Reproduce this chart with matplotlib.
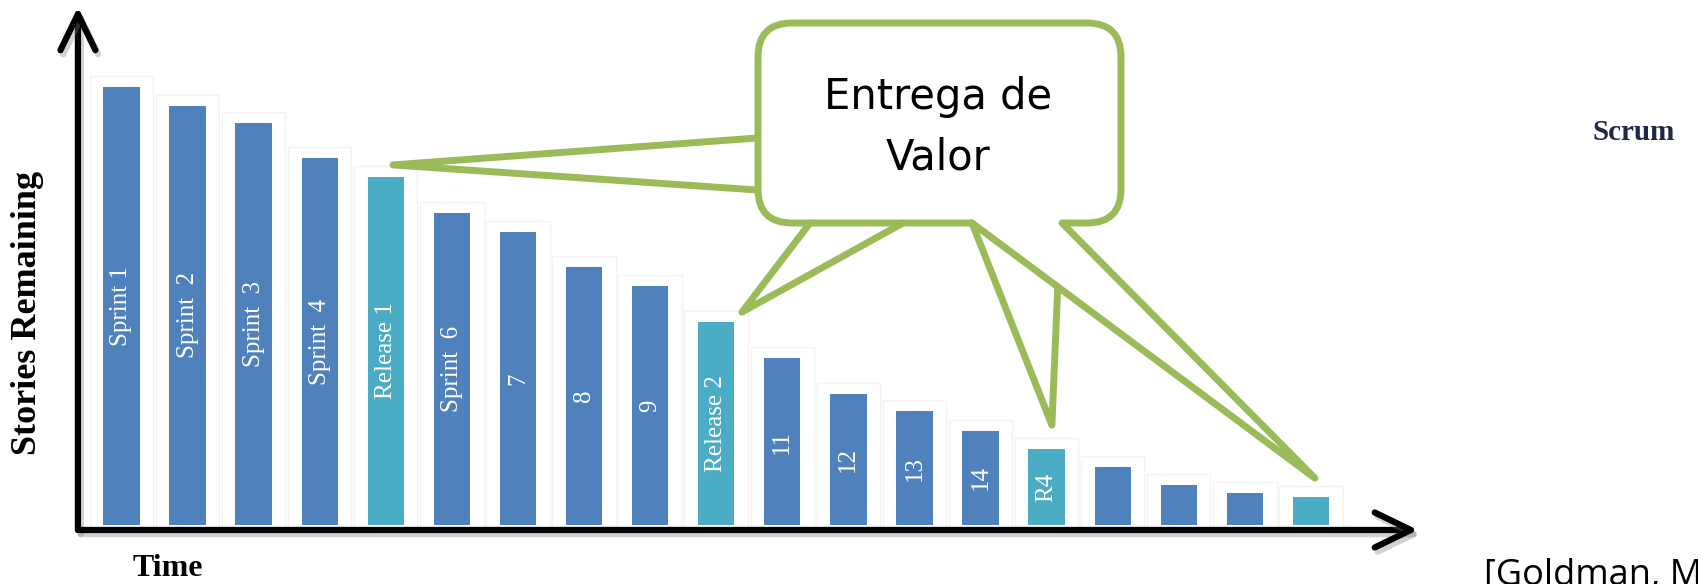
import matplotlib.pyplot as plt
import matplotlib.patheffects as pe
from matplotlib.patches import FancyBboxPatch
import numpy as np

# stories left at the end of each sprint (first bar = 100)
stories_remaining = [100, 95.7, 91.8, 83.8, 79.5, 71.2, 66.9, 58.9, 54.6, 46.3,
                     38.1, 29.9, 26.0, 21.5, 17.4, 13.2, 9.1, 7.3, 6.4]
bar_labels = ['Sprint 1', 'Sprint  2', 'Sprint  3', 'Sprint  4', 'Release 1',
              'Sprint  6', '7', '8', '9', 'Release 2', '11', '12', '13', '14',
              'R4', '', '', '', '']
release_bars = [4, 9, 14, 18]

blue = '#4F81BD'
teal = '#4BACC6'
green = '#9BBB59'

fig = plt.figure(figsize=(16.98, 5.84), dpi=100)

ax = fig.add_axes([0.0459, 0.0925, 0.7892, 0.8956])
x = np.arange(len(stories_remaining))
colors = [teal if i in release_bars else blue for i in x]

# faint cells behind the bars
ax.bar(x, np.array(stories_remaining) + 3.5, width=0.96, bottom=-1.0,
       color='white', edgecolor='#f3f3f3', linewidth=1.0, zorder=0)
ax.bar(x, stories_remaining, width=0.55, color=colors, zorder=2)
for i, label in enumerate(bar_labels):
    if label:
        ax.text(i, stories_remaining[i] / 2, label, rotation=90, ha='center', va='center',
                color='white', fontsize=18, family='Liberation Serif', zorder=3)

ax.set_xlim(-0.658, 19.62)
ax.set_ylim(-1.14, 118.26)
ax.axis('off')

# axis arrows
shadow = [pe.SimpleLineShadow(offset=(2, -3), shadow_color='gray', alpha=0.35), pe.Normal()]
for end in [(0, 1), (1, 0)]:
    ax.annotate('', xy=end, xytext=(0, 0), xycoords='axes fraction', textcoords='axes fraction',
                annotation_clip=False,
                arrowprops=dict(arrowstyle='->,head_length=1.3,head_width=0.63', lw=4.5,
                                color='black', shrinkA=0, shrinkB=0, mutation_scale=20,
                                capstyle='round', joinstyle='round', path_effects=shadow))

# overlay in pixel units for the callout and the loose texts
ov = fig.add_axes([0, 0, 1, 1])
ov.set_xlim(0, 1698)
ov.set_ylim(584, 0)
ov.axis('off')


def to_pixels(px, py):
    return ov.transData.inverted().transform(ax.transData.transform((px, py)))


tip_dx = [0.11, 0.39, 0.08, 0.06]
tip_dy = [2.7, 2.3, 5.4, 4.3]
tips = [to_pixels(b + dx, stories_remaining[b] + dy) for b, dx, dy in zip(release_bars, tip_dx, tip_dy)]

box = FancyBboxPatch((758, 23), 363, 200, boxstyle='round,pad=0,rounding_size=34',
                     facecolor='white', edgecolor=green, linewidth=5, zorder=2)
ov.add_patch(box)
ov.plot([977, 1057], [223, 223], color='white', lw=7, zorder=3)

junction = (972 + 0.25 * (tips[3][0] - 972), 223 + 0.25 * (tips[3][1] - 223))
pointers = [
    [(757, 138), tips[0], (757, 190)],
    [(810, 223), tips[1], (903, 223)],
    [(972, 223), tips[2], junction],
    [(972, 223), tips[3], (1062, 223)],
]
for pts in pointers:
    xs, ys = zip(*pts)
    ov.plot(xs, ys, color=green, lw=5, solid_joinstyle='round', solid_capstyle='round', zorder=4)

ov.text(938, 127, 'Entrega de\nValor', ha='center', va='center', fontsize=30,
        linespacing=1.55, family='DejaVu Sans', zorder=5)

ov.text(28, 313, 'Stories Remaining', rotation=90, ha='center', va='center',
        fontsize=26, fontweight='bold', family='Liberation Serif')
ov.text(168, 576, 'Time', ha='center', va='baseline', fontsize=23,
        fontweight='bold', family='Liberation Serif')
ov.text(1634, 132, 'Scrum', ha='center', va='center', fontsize=21,
        fontweight='bold', family='Liberation Serif', color='#1F2A44')
ov.text(1484, 585, '[Goldman, M', ha='left', va='baseline', fontsize=26,
        family='Open Sans')

fig.savefig('out.png', dpi=100)
